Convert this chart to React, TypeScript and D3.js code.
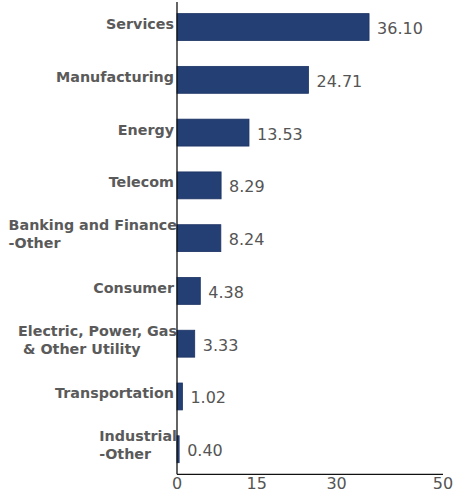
import { useEffect, useRef } from "react";
import * as d3 from "d3";

const categories: string[][] = [
  ["Services"],
  ["Manufacturing"],
  ["Energy"],
  ["Telecom"],
  ["Banking and Finance", "-Other"],
  ["Consumer"],
  ["Electric, Power, Gas", " & Other Utility"],
  ["Transportation"],
  ["Industrial", "-Other"],
];
const values = [36.1, 24.71, 13.53, 8.29, 8.24, 4.38, 3.33, 1.02, 0.4];
const xTicks = [0, 15, 30, 50];

const W = 455;
const H = 493;

const App = () => {
  const svgRef = useRef<SVGSVGElement>(null);

  useEffect(() => {
    const svg = d3.select(svgRef.current).attr("width", W).attr("height", H);
    svg.selectAll("*").remove();

    const left = 177;
    const right = 443;
    const top = 2;
    const bottom = 474.3;

    const x = d3.scaleLinear().domain([0, 50]).range([left, right]);
    const y = d3
      .scaleBand()
      .domain(categories.map((c) => c.join(" ")))
      .range([top, bottom])
      .paddingInner(0.49)
      .paddingOuter(0.22);

    const data = categories.map((c, i) => ({ key: c.join(" "), lines: c, v: values[i] }));

    // bars
    svg
      .selectAll(".bar")
      .data(data)
      .join("rect")
      .attr("class", "bar")
      .attr("x", x(0))
      .attr("y", (d) => y(d.key) || 0)
      .attr("width", (d) => x(d.v) - x(0))
      .attr("height", y.bandwidth())
      .attr("fill", "#243f73")
      .attr("stroke", "#1b3263")
      .attr("stroke-width", 0.8);

    // value labels
    svg
      .selectAll(".val")
      .data(data)
      .join("text")
      .attr("class", "val")
      .attr("x", (d) => x(d.v) + 8)
      .attr("y", (d) => (y(d.key) || 0) + y.bandwidth() / 2 + 7)
      .attr("font-family", "DejaVu Sans, sans-serif")
      .attr("font-size", 16)
      .attr("fill", "#555")
      .text((d) => d.v.toFixed(2));

    // category labels
    data.forEach((d) => {
      const cy = (y(d.key) || 0) + y.bandwidth() / 2;
      const g = svg
        .append("text")
        .attr("font-family", "DejaVu Sans, sans-serif")
        .attr("font-size", 14.3)
        .attr("font-weight", "bold")
        .attr("fill", "#5a5a5a")
        .style("white-space", "pre");
      if (d.lines.length === 1) {
        g.attr("x", left - 3).attr("y", cy + 2).attr("text-anchor", "end").text(d.lines[0]);
      } else {
        const first = g
          .append("tspan")
          .attr("x", left)
          .attr("y", cy - 8)
          .attr("text-anchor", "end")
          .text(d.lines[0]);
        const w = (first.node() as SVGTSpanElement).getComputedTextLength();
        g.append("tspan")
          .attr("x", left - w)
          .attr("y", cy + 10)
          .attr("text-anchor", "start")
          .text(d.lines[1]);
      }
    });

    // axes
    svg
      .append("line")
      .attr("x1", left)
      .attr("x2", left)
      .attr("y1", top)
      .attr("y2", bottom)
      .attr("stroke", "#111")
      .attr("stroke-width", 1.3);
    svg
      .append("line")
      .attr("x1", left)
      .attr("x2", right)
      .attr("y1", bottom)
      .attr("y2", bottom)
      .attr("stroke", "#111")
      .attr("stroke-width", 1.3);

    svg
      .selectAll(".tick")
      .data(xTicks)
      .join("text")
      .attr("class", "tick")
      .attr("x", (t) => x(t))
      .attr("y", 489)
      .attr("text-anchor", "middle")
      .attr("font-family", "DejaVu Sans, sans-serif")
      .attr("font-size", 16)
      .attr("fill", "#555")
      .text((t) => t);
  }, []);

  return (
    <div style={{ position: "absolute", left: 0, top: 0 }}>
      <svg ref={svgRef} style={{ display: "block" }} />
    </div>
  );
};

export default App;
